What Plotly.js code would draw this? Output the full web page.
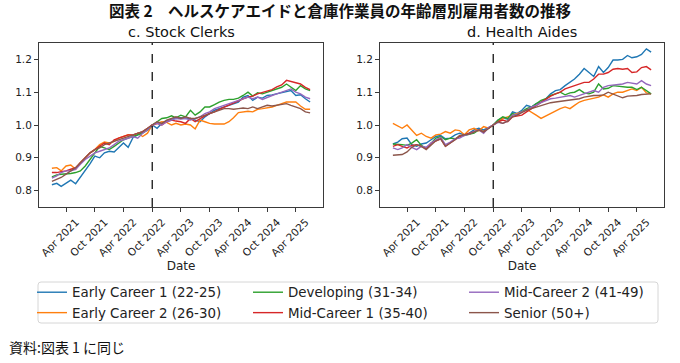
<!DOCTYPE html>
<html>
<head>
<meta charset="utf-8">
<script src="https://cdn.plot.ly/plotly-3.0.1.min.js"></script>
<style>html,body{margin:0;padding:0;background:#fff;}#chart{width:680px;height:363px;}</style>
</head>
<body>
<div id="chart"></div>
<script>
// Monthly dates Jan 2021 .. Jul 2025 (55 months)
const startYear = 2021, nMonths = 55;
const dates = [];
for (let k = 0; k < nMonths; k++) {
  const y = startYear + Math.floor(k / 12), m = (k % 12) + 1;
  dates.push(y + '-' + String(m).padStart(2, '0') + '-01');
}
const baseDate = '2022-10-01';

const seriesNames = ['Early Career 1 (22-25)', 'Early Career 2 (26-30)', 'Developing (31-34)',
                     'Mid-Career 1 (35-40)', 'Mid-Career 2 (41-49)', 'Senior (50+)'];
const legendOrder = [1, 4, 2, 5, 3, 6];
const colors = ['#1f77b4', '#ff7f0e', '#2ca02c', '#d62728', '#9467bd', '#8c564b'];

const tickVals = ['2021-04-01','2021-10-01','2022-04-01','2022-10-01','2023-04-01','2023-10-01','2024-04-01','2024-10-01','2025-04-01'];
const tickText = ['Apr 2021','Oct 2021','Apr 2022','Oct 2022','Apr 2023','Oct 2023','Apr 2024','Oct 2024','Apr 2025'];

// c. Stock Clerks
const scEarly1 = [0.818,0.822,0.813,0.822,0.832,0.821,0.84,0.862,0.882,0.905,0.9,0.915,0.92,0.918,0.93,0.945,0.932,0.962,0.97,0.978,0.985,1.0,
  0.99,1.005,1.012,1.018,1.02,1.022,1.02,1.02,1.015,1.01,1.025,1.035,1.045,1.05,1.055,1.06,1.065,1.07,1.085,1.09,1.075,1.085,1.082,1.09,1.092,1.095,1.098,1.1,1.105,1.09,1.092,1.08,1.07];
const scEarly2 = [0.868,0.87,0.86,0.875,0.878,0.865,0.885,0.9,0.915,0.925,0.94,0.948,0.945,0.95,0.96,0.965,0.97,0.968,0.975,0.965,0.975,1.0,
  1.005,1.01,1.008,1.0,1.005,1.0,1.003,1.0,0.988,1.015,1.01,1.005,1.003,1.002,1.003,1.01,1.022,1.038,1.04,1.042,1.04,1.048,1.05,1.052,1.055,1.06,1.065,1.07,1.07,1.07,1.058,1.048,1.048];
const scDev = [0.842,0.848,0.85,0.85,0.852,0.855,0.86,0.875,0.895,0.915,0.935,0.93,0.925,0.935,0.945,0.955,0.96,0.965,0.97,0.975,0.985,1.0,
  1.01,1.02,1.022,1.028,1.022,1.03,1.025,1.045,1.03,1.04,1.055,1.055,1.062,1.07,1.075,1.078,1.078,1.082,1.09,1.1,1.088,1.098,1.095,1.1,1.105,1.11,1.115,1.125,1.115,1.105,1.12,1.11,1.105];
const scMid1 = [0.855,0.855,0.858,0.86,0.865,0.87,0.885,0.9,0.915,0.925,0.935,0.945,0.94,0.955,0.96,0.965,0.97,0.97,0.975,0.98,0.99,1.0,
  1.005,1.0,1.01,1.015,1.012,1.01,1.005,1.02,1.01,1.02,1.028,1.035,1.04,1.048,1.055,1.06,1.068,1.075,1.08,1.085,1.088,1.095,1.1,1.105,1.108,1.116,1.122,1.136,1.133,1.13,1.125,1.115,1.108];
const scMid2 = [0.838,0.845,0.855,0.86,0.86,0.865,0.88,0.895,0.905,0.915,0.92,0.925,0.93,0.94,0.95,0.955,0.96,0.965,0.96,0.975,0.985,1.0,
  1.005,1.0,1.01,1.015,1.02,1.018,1.02,1.015,1.02,1.025,1.035,1.04,1.05,1.055,1.06,1.065,1.07,1.075,1.08,1.085,1.08,1.085,1.078,1.085,1.09,1.095,1.1,1.105,1.11,1.1,1.095,1.085,1.08];
const scSenior = [0.828,0.835,0.84,0.85,0.86,0.87,0.885,0.9,0.915,0.925,0.93,0.94,0.945,0.95,0.955,0.96,0.965,0.97,0.975,0.98,0.99,1.0,
  1.01,1.005,1.015,1.02,1.025,1.02,1.025,1.02,1.02,1.025,1.03,1.035,1.04,1.045,1.05,1.05,1.048,1.05,1.052,1.05,1.055,1.05,1.055,1.06,1.058,1.06,1.062,1.065,1.06,1.055,1.05,1.04,1.037];

// d. Health Aides
const haEarly1 = [0.942,0.948,0.958,0.96,0.94,0.935,0.942,0.945,0.955,0.965,0.968,0.958,0.96,0.97,0.975,0.97,0.975,0.985,0.99,0.985,0.992,1.0,
  1.015,1.022,1.018,1.04,1.035,1.045,1.06,1.055,1.065,1.07,1.08,1.095,1.105,1.108,1.12,1.13,1.14,1.155,1.172,1.16,1.148,1.178,1.16,1.175,1.198,1.198,1.2,1.212,1.205,1.208,1.215,1.232,1.222];
const haEarly2 = [1.005,0.998,0.99,1.0,0.985,0.968,0.975,0.965,0.96,0.97,0.972,0.98,0.975,0.985,0.983,0.97,0.985,0.99,0.982,0.995,0.99,1.0,
  1.012,1.02,1.025,1.03,1.035,1.04,1.048,1.04,1.03,1.02,1.028,1.035,1.042,1.05,1.055,1.05,1.06,1.07,1.075,1.078,1.082,1.085,1.092,1.085,1.095,1.1,1.1,1.105,1.11,1.105,1.115,1.098,1.095];
const haDev = [0.942,0.942,0.94,0.938,0.945,0.955,0.938,0.928,0.945,0.96,0.965,0.955,0.96,0.958,0.965,0.968,0.97,0.975,0.985,0.98,0.99,1.0,
  1.015,1.025,1.02,1.035,1.03,1.04,1.05,1.055,1.065,1.075,1.08,1.09,1.095,1.1,1.092,1.098,1.1,1.108,1.098,1.095,1.1,1.125,1.11,1.112,1.12,1.118,1.118,1.115,1.115,1.108,1.115,1.105,1.095];
const haMid1 = [0.935,0.94,0.935,0.93,0.938,0.94,0.935,0.928,0.945,0.952,0.958,0.935,0.945,0.955,0.965,0.97,0.975,0.978,0.985,0.98,0.99,1.0,
  1.01,1.015,1.01,1.025,1.028,1.03,1.04,1.05,1.058,1.07,1.08,1.088,1.095,1.1,1.11,1.115,1.12,1.125,1.13,1.13,1.14,1.155,1.155,1.16,1.17,1.172,1.17,1.172,1.16,1.162,1.175,1.178,1.168];
const haMid2 = [0.93,0.925,0.93,0.94,0.932,0.925,0.935,0.932,0.945,0.955,0.962,0.94,0.948,0.958,0.96,0.968,0.972,0.98,0.985,0.975,0.992,1.0,
  1.008,1.005,1.012,1.03,1.032,1.04,1.045,1.055,1.06,1.068,1.075,1.08,1.082,1.085,1.088,1.09,1.085,1.09,1.095,1.1,1.105,1.1,1.115,1.12,1.122,1.125,1.125,1.13,1.128,1.125,1.135,1.125,1.12];
const haSenior = [0.908,0.908,0.91,0.918,0.932,0.94,0.935,0.925,0.94,0.952,0.958,0.935,0.945,0.955,0.968,0.97,0.972,0.978,0.985,0.978,0.99,1.0,
  1.01,1.005,1.012,1.025,1.03,1.038,1.045,1.05,1.055,1.06,1.065,1.068,1.07,1.072,1.075,1.075,1.078,1.08,1.085,1.088,1.09,1.09,1.092,1.1,1.095,1.088,1.083,1.088,1.088,1.09,1.093,1.095,1.095];

const stockClerks = [scEarly1, scEarly2, scDev, scMid1, scMid2, scSenior];
const healthAides = [haEarly1, haEarly2, haDev, haMid1, haMid2, haSenior];

const traces = [];
stockClerks.forEach((ys, k) => traces.push({
  x: dates, y: ys, type: 'scatter', mode: 'lines', name: seriesNames[k],
  line: {color: colors[k], width: 1.4}, xaxis: 'x', yaxis: 'y',
  legendrank: legendOrder[k], showlegend: true
}));
healthAides.forEach((ys, k) => traces.push({
  x: dates, y: ys, type: 'scatter', mode: 'lines', name: seriesNames[k],
  line: {color: colors[k], width: 1.4}, xaxis: 'x2', yaxis: 'y2', showlegend: false
}));

const W = 680, H = 363;
const xRange = ['2020-10-11', '2025-09-21'];
const axisLine = '#3a3a3a';
const tickFont = {family: 'DejaVu Sans, sans-serif', size: 10.5, color: '#222'};
function xAx(domain, anchor) {
  return {domain: domain, anchor: anchor, type: 'date', range: xRange,
    tickmode: 'array', tickvals: tickVals, ticktext: tickText, tickangle: -45, ticklabelshift: 10,
    ticks: 'outside', ticklen: 4, tickcolor: axisLine, showline: true, linecolor: axisLine, linewidth: 1,
    mirror: true, showgrid: false, zeroline: false, tickfont: tickFont,
    title: {text: 'Date', font: {family: 'DejaVu Sans, sans-serif', size: 12, color: '#222'}, standoff: 0}};
}
function yAx(anchor) {
  return {domain: [1 - 207 / H, 1 - 43 / H], anchor: anchor, range: [0.75, 1.25],
    tickmode: 'linear', tick0: 0.8, dtick: 0.1, tickformat: '.1f',
    ticks: 'outside', ticklen: 4, tickcolor: axisLine, showline: true, linecolor: axisLine, linewidth: 1,
    mirror: true, showgrid: false, zeroline: false, tickfont: tickFont};
}

const layout = {
  width: W, height: H, margin: {l: 0, r: 0, t: 0, b: 0},
  paper_bgcolor: '#fff', plot_bgcolor: '#fff',
  title: {text: '図表 2　ヘルスケアエイドと倉庫作業員の年齢層別雇用者数の推移',
    x: 0.5, xanchor: 'center', y: 1 - 12 / H, yanchor: 'middle',
    font: {family: 'Noto Sans CJK JP, sans-serif', size: 15.5, weight: 'bold', color: '#111'}},
  xaxis: xAx([39 / W, 323 / W], 'y'),
  yaxis: yAx('x'),
  xaxis2: xAx([380 / W, 664 / W], 'y2'),
  yaxis2: yAx('x2'),
  shapes: [
    {type: 'line', xref: 'x', yref: 'y domain', x0: baseDate, x1: baseDate, y0: 0, y1: 1,
     line: {color: '#000', width: 1.2, dash: 'dash'}},
    {type: 'line', xref: 'x2', yref: 'y2 domain', x0: baseDate, x1: baseDate, y0: 0, y1: 1,
     line: {color: '#000', width: 1.2, dash: 'dash'}},
    // legend frame (matplotlib-style rounded box)
    {type: 'path', xref: 'paper', yref: 'paper', layer: 'below',
     path: (function () {
       const L = 38 / W, R = 658 / W, T = 1 - 282 / H, B = 1 - 323 / H, rx = 3 / W, ry = 3 / H;
       return 'M' + (L + rx) + ',' + T + ' L' + (R - rx) + ',' + T + ' Q' + R + ',' + T + ' ' + R + ',' + (T - ry) +
         ' L' + R + ',' + (B + ry) + ' Q' + R + ',' + B + ' ' + (R - rx) + ',' + B +
         ' L' + (L + rx) + ',' + B + ' Q' + L + ',' + B + ' ' + L + ',' + (B + ry) +
         ' L' + L + ',' + (T - ry) + ' Q' + L + ',' + T + ' ' + (L + rx) + ',' + T + ' Z';
     })(),
     line: {color: '#d6d6d6', width: 1}, fillcolor: '#fff'}
  ],
  annotations: [
    {text: 'c. Stock Clerks', xref: 'paper', yref: 'paper', x: 181 / W, y: 1 - 32 / H,
     xanchor: 'center', yanchor: 'middle', showarrow: false,
     font: {family: 'DejaVu Sans, sans-serif', size: 14.5, color: '#111'}},
    {text: 'd. Health Aides', xref: 'paper', yref: 'paper', x: 522 / W, y: 1 - 32 / H,
     xanchor: 'center', yanchor: 'middle', showarrow: false,
     font: {family: 'DejaVu Sans, sans-serif', size: 14.5, color: '#111'}},
    {text: '資料:図表 1 に同じ', xref: 'paper', yref: 'paper', x: 7 / W, y: 1 - 347 / H,
     xanchor: 'left', yanchor: 'middle', showarrow: false,
     font: {family: 'Noto Sans CJK JP, sans-serif', size: 14, color: '#111'}}
  ],
  legend: {orientation: 'h', x: 37 / W, y: 1 - 277 / H, xanchor: 'left', yanchor: 'top',
    bgcolor: 'rgba(0,0,0,0)', borderwidth: 0,
    entrywidth: 171, entrywidthmode: 'pixels', traceorder: 'normal',
    font: {family: 'DejaVu Sans, sans-serif', size: 13.4, color: '#222'}}
};

Plotly.newPlot('chart', traces, layout, {displayModeBar: false, staticPlot: true});
</script>
</body>
</html>
